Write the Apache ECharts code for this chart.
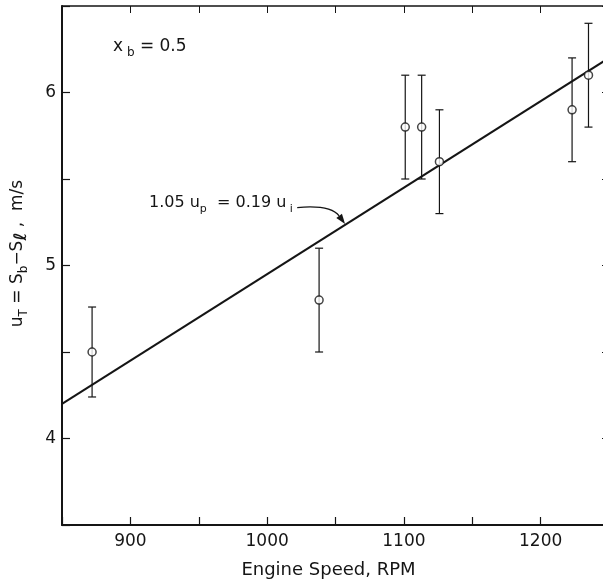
<!DOCTYPE html>
<html>
<head>
<meta charset="utf-8">
<script src="https://cdn.jsdelivr.net/npm/echarts@6/dist/echarts.min.js"></script>
<style>
  html, body { margin: 0; padding: 0; background: #fff; }
  #chart { width: 603px; height: 585px; }
</style>
</head>
<body>
<div id="chart"></div>
<script>
// Measured turbulence velocity vs. engine speed
const rpm = [872, 1038, 1101, 1113, 1126, 1223, 1235];
const uT = [4.5, 4.8, 5.8, 5.8, 5.6, 5.9, 6.1];
const uTErr = [0.26, 0.3, 0.3, 0.3, 0.3, 0.3, 0.3];

// Correlation line 1.05 u_p = 0.19 u_i
const fitRpm = [850, 1250];
const fitUT = [4.2, 6.2];

// Arrow from the correlation label to the line
const arrowFrom = [1022, 5.335];
const arrowTo = [1057, 5.240];

const xTickLabels = [900, 1000, 1100, 1200];
const yTickLabels = [4, 5, 6];

const FONT = 'DejaVu Sans';
const INK = '#151515';

const chart = echarts.init(document.getElementById('chart'), null, { renderer: 'canvas' });

const pointData = rpm.map((x, i) => [x, uT[i]]);
const errData = rpm.map((x, i) => [x, uT[i] - uTErr[i], uT[i] + uTErr[i]]);
const fitData = fitRpm.map((x, i) => [x, fitUT[i]]);
const arrowData = [[arrowFrom[0], arrowFrom[1], arrowTo[0], arrowTo[1]]];

const tickCommon = { show: true, inside: true, length: 8, lineStyle: { color: INK, width: 1.2 } };

chart.setOption({
  animation: false,
  backgroundColor: '#fff',
  grid: { left: 62, top: 6, width: 547, height: 519, outerBoundsMode: 'none', containLabel: false },
  xAxis: [
    {
      type: 'value', min: 850, max: 1250, interval: 50,
      axisLine: { lineStyle: { color: INK, width: 2 } },
      axisTick: tickCommon,
      splitLine: { show: false },
      axisLabel: {
        fontFamily: FONT, fontSize: 17, color: INK, margin: 8,
        formatter: v => (xTickLabels.indexOf(v) >= 0 ? String(v) : '')
      },
      name: 'Engine Speed, RPM',
      nameLocation: 'middle',
      nameGap: 36,
      nameTextStyle: { fontFamily: FONT, fontSize: 18, color: INK, padding: [0, 14, 0, 0] }
    },
    {
      type: 'value', position: 'top', min: 850, max: 1250, interval: 50,
      axisLine: { lineStyle: { color: INK, width: 1.5 } },
      axisTick: { show: true, inside: true, length: 7, lineStyle: { color: INK, width: 1 } },
      axisLabel: { show: false },
      splitLine: { show: false }
    }
  ],
  yAxis: [
    {
      type: 'value', min: 3.5, max: 6.5, interval: 0.5,
      axisLine: { show: true, lineStyle: { color: INK, width: 2 } },
      axisTick: tickCommon,
      splitLine: { show: false },
      axisLabel: {
        fontFamily: FONT, fontSize: 17, color: INK, margin: 6,
        formatter: v => (yTickLabels.indexOf(v) >= 0 ? String(v) : '')
      },
      name: '{m|u}{s|T}{m| = S}{s|b}{m|−S}{l|ℓ}{m| ,  m/s}',
      nameLocation: 'middle',
      nameRotate: 90,
      nameGap: 32,
      nameTextStyle: {
        padding: [0, 0, 0, 24],
        rich: {
          m: { fontFamily: FONT, fontSize: 17, color: INK, lineHeight: 24, verticalAlign: 'middle' },
          s: { fontFamily: FONT, fontSize: 12, color: INK, lineHeight: 24, verticalAlign: 'bottom' },
          l: { fontFamily: FONT, fontSize: 17, fontWeight: 'bold', color: INK, lineHeight: 24, verticalAlign: 'bottom' }
        }
      }
    },
    {
      type: 'value', position: 'right', min: 3.5, max: 6.5, interval: 0.5,
      axisLine: { show: true, lineStyle: { color: INK, width: 1.5 } },
      axisTick: { show: true, inside: true, length: 7, lineStyle: { color: INK, width: 1 } },
      axisLabel: { show: false },
      splitLine: { show: false }
    }
  ],
  graphic: [
    {
      type: 'text', left: 113, top: 38, silent: true,
      style: {
        text: '{m|x}{s| b}{m| = 0.5}',
        rich: {
          m: { fontFamily: FONT, fontSize: 17, fill: INK, lineHeight: 24, verticalAlign: 'middle' },
          s: { fontFamily: FONT, fontSize: 12, fill: INK, lineHeight: 24, verticalAlign: 'bottom' }
        }
      }
    },
    {
      type: 'text', left: 149, top: 195, silent: true,
      style: {
        text: '{m|1.05 u}{s|p}{m|  = 0.19 u}{s| i}',
        rich: {
          m: { fontFamily: FONT, fontSize: 16, fill: INK, lineHeight: 24, verticalAlign: 'middle' },
          s: { fontFamily: FONT, fontSize: 11, fill: INK, lineHeight: 24, verticalAlign: 'bottom' }
        }
      }
    }
  ],
  series: [
    {
      type: 'line',
      data: fitData,
      symbol: 'none',
      silent: true,
      lineStyle: { color: INK, width: 2 },
      z: 2
    },
    {
      // curved leader arrow from the correlation label to the line
      type: 'custom',
      data: arrowData,
      silent: true,
      z: 3,
      renderItem: function (params, api) {
        const a = api.coord([api.value(0), api.value(1)]);
        const b = api.coord([api.value(2), api.value(3)]);
        const cp = [a[0] + (b[0] - a[0]) * 0.7, a[1] - 3];
        const tx = b[0] - cp[0], ty = b[1] - cp[1];
        const len = Math.sqrt(tx * tx + ty * ty);
        const ux = tx / len, uy = ty / len;
        const headL = 10, headW = 3.5;
        const base = [b[0] - ux * headL, b[1] - uy * headL];
        return {
          type: 'group',
          children: [
            {
              type: 'bezierCurve',
              shape: { x1: a[0], y1: a[1], x2: base[0], y2: base[1], cpx1: cp[0], cpy1: cp[1] },
              style: { stroke: INK, lineWidth: 1.3, fill: null }
            },
            {
              type: 'polygon',
              shape: { points: [b, [base[0] - uy * headW, base[1] + ux * headW], [base[0] + uy * headW, base[1] - ux * headW]] },
              style: { fill: INK, stroke: null }
            }
          ]
        };
      }
    },
    {
      type: 'custom',
      data: errData,
      silent: true,
      z: 3,
      renderItem: function (params, api) {
        const x = api.value(0);
        const lo = api.coord([x, api.value(1)]);
        const hi = api.coord([x, api.value(2)]);
        const cap = 4;
        const style = { stroke: INK, lineWidth: 1.2 };
        return {
          type: 'group',
          children: [
            { type: 'line', shape: { x1: lo[0], y1: lo[1], x2: hi[0], y2: hi[1] }, style: style },
            { type: 'line', shape: { x1: lo[0] - cap, y1: lo[1], x2: lo[0] + cap, y2: lo[1] }, style: style },
            { type: 'line', shape: { x1: hi[0] - cap, y1: hi[1], x2: hi[0] + cap, y2: hi[1] }, style: style }
          ]
        };
      }
    },
    {
      type: 'scatter',
      data: pointData,
      symbol: 'circle',
      symbolSize: 8,
      silent: true,
      z: 4,
      itemStyle: { color: '#fff', borderColor: INK, borderWidth: 1.5 }
    }
  ]
});
</script>
</body>
</html>
